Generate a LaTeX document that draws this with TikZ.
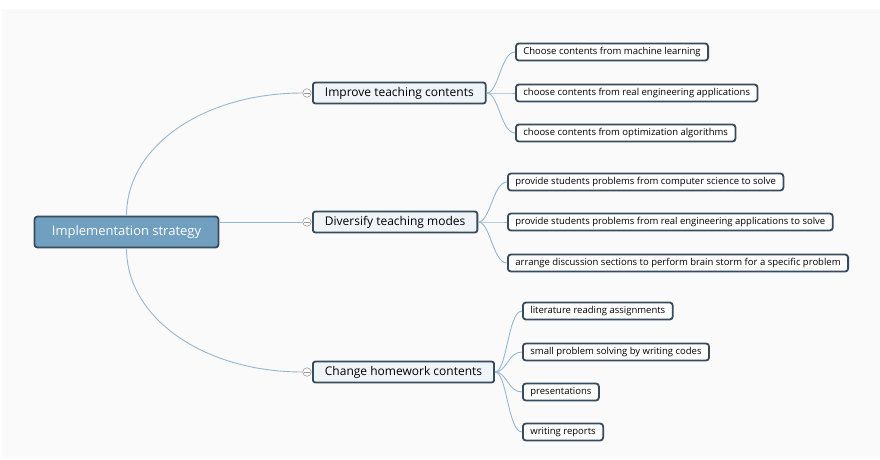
\documentclass[tikz,border=0pt]{standalone}
\usepackage{fontspec}
\setmainfont{Open Sans}
\definecolor{rootblue}{HTML}{719FBF}
\definecolor{boxedge}{HTML}{374B5C}
\definecolor{topicfill}{HTML}{EEF4F8}
\definecolor{linkblue}{HTML}{95B7CF}
\definecolor{canvasgray}{HTML}{FAFAFA}
\tikzset{
  rootbox/.style={
    draw=boxedge,
    fill=rootblue,
    line width=1.8pt,
    rounded corners=3pt,
    minimum height=31pt,
    minimum width=184pt,
    text=white,
    font=\fontsize{13}{15}\selectfont
  },
  topicbox/.style={
    draw=boxedge,
    fill=topicfill,
    line width=1.8pt,
    rounded corners=2.5pt,
    minimum height=21pt,
    inner xsep=12pt,
    anchor=west,
    font=\fontsize{12}{14}\selectfont
  },
  leafbox/.style={
    draw=boxedge,
    fill=white,
    line width=1.8pt,
    rounded corners=3pt,
    minimum height=17pt,
    inner xsep=7.5pt,
    anchor=west,
    font=\fontsize{9.5}{11}\selectfont
  },
  foldmark/.style={circle,draw=black!40,fill=white,line width=0.6pt,minimum size=8.5pt,inner sep=0pt},
  link/.style={draw=linkblue,line width=0.9pt}
}

\begin{document}
\begin{tikzpicture}[x=1pt,y=1pt]
  \useasboundingbox (0,0) rectangle (880,-459);
  \fill[canvasgray] (2,-9) rectangle (880,-457);

  \node[rootbox] (root) at (126.5,-232) {Implementation strategy};

  % main branches
  \node[topicbox] (c1) at (312,-93) {Improve teaching contents};
  \node[topicbox] (c2) at (312,-222) {Diversify teaching modes};
  \node[topicbox] (c3) at (312,-372) {Change homework contents};
  \node[foldmark] (m1) at (307,-93) {};
  \node[foldmark] (m2) at (307,-222) {};
  \node[foldmark] (m3) at (307,-372) {};

  \draw[link] (root.north) .. controls +(0,70) and +(-98,0) .. (m1.west);
  \draw[link] (root.east |- m2) -- (m2.west);
  \draw[link] (root.south) .. controls +(0,-70) and +(-98,0) .. (m3.west);
  \foreach \m in {m1,m2,m3}
    \draw[black!40,line width=0.6pt] ([xshift=1.5pt]\m.west) -- ([xshift=-1.5pt]\m.east);

  % leaves
  \node[leafbox] (l11) at (515,-52) {Choose contents from machine learning};
  \node[leafbox] (l12) at (515,-93) {choose contents from real engineering applications};
  \node[leafbox] (l13) at (515,-133) {choose contents from optimization algorithms};

  \node[leafbox] (l21) at (507,-182) {provide students problems from computer science to solve};
  \node[leafbox] (l22) at (507,-222) {provide students problems from real engineering applications to solve};
  \node[leafbox] (l23) at (507,-263) {arrange discussion sections to perform brain storm for a specific problem};

  \node[leafbox] (l31) at (522,-311) {literature reading assignments};
  \node[leafbox] (l32) at (522,-352) {small problem solving by writing codes};
  \node[leafbox] (l33) at (522,-392) {presentations};
  \node[leafbox] (l34) at (522,-432) {writing reports};

  \foreach \l in {l11,l12,l13}
    \draw[link] (c1.east) .. controls +(12,0) and +(-14,0) .. (\l.west);
  \foreach \l in {l21,l22,l23}
    \draw[link] (c2.east) .. controls +(12,0) and +(-14,0) .. (\l.west);
  \foreach \l in {l31,l32,l33,l34}
    \draw[link] (c3.east) .. controls +(12,0) and +(-14,0) .. (\l.west);
\end{tikzpicture}
\end{document}
